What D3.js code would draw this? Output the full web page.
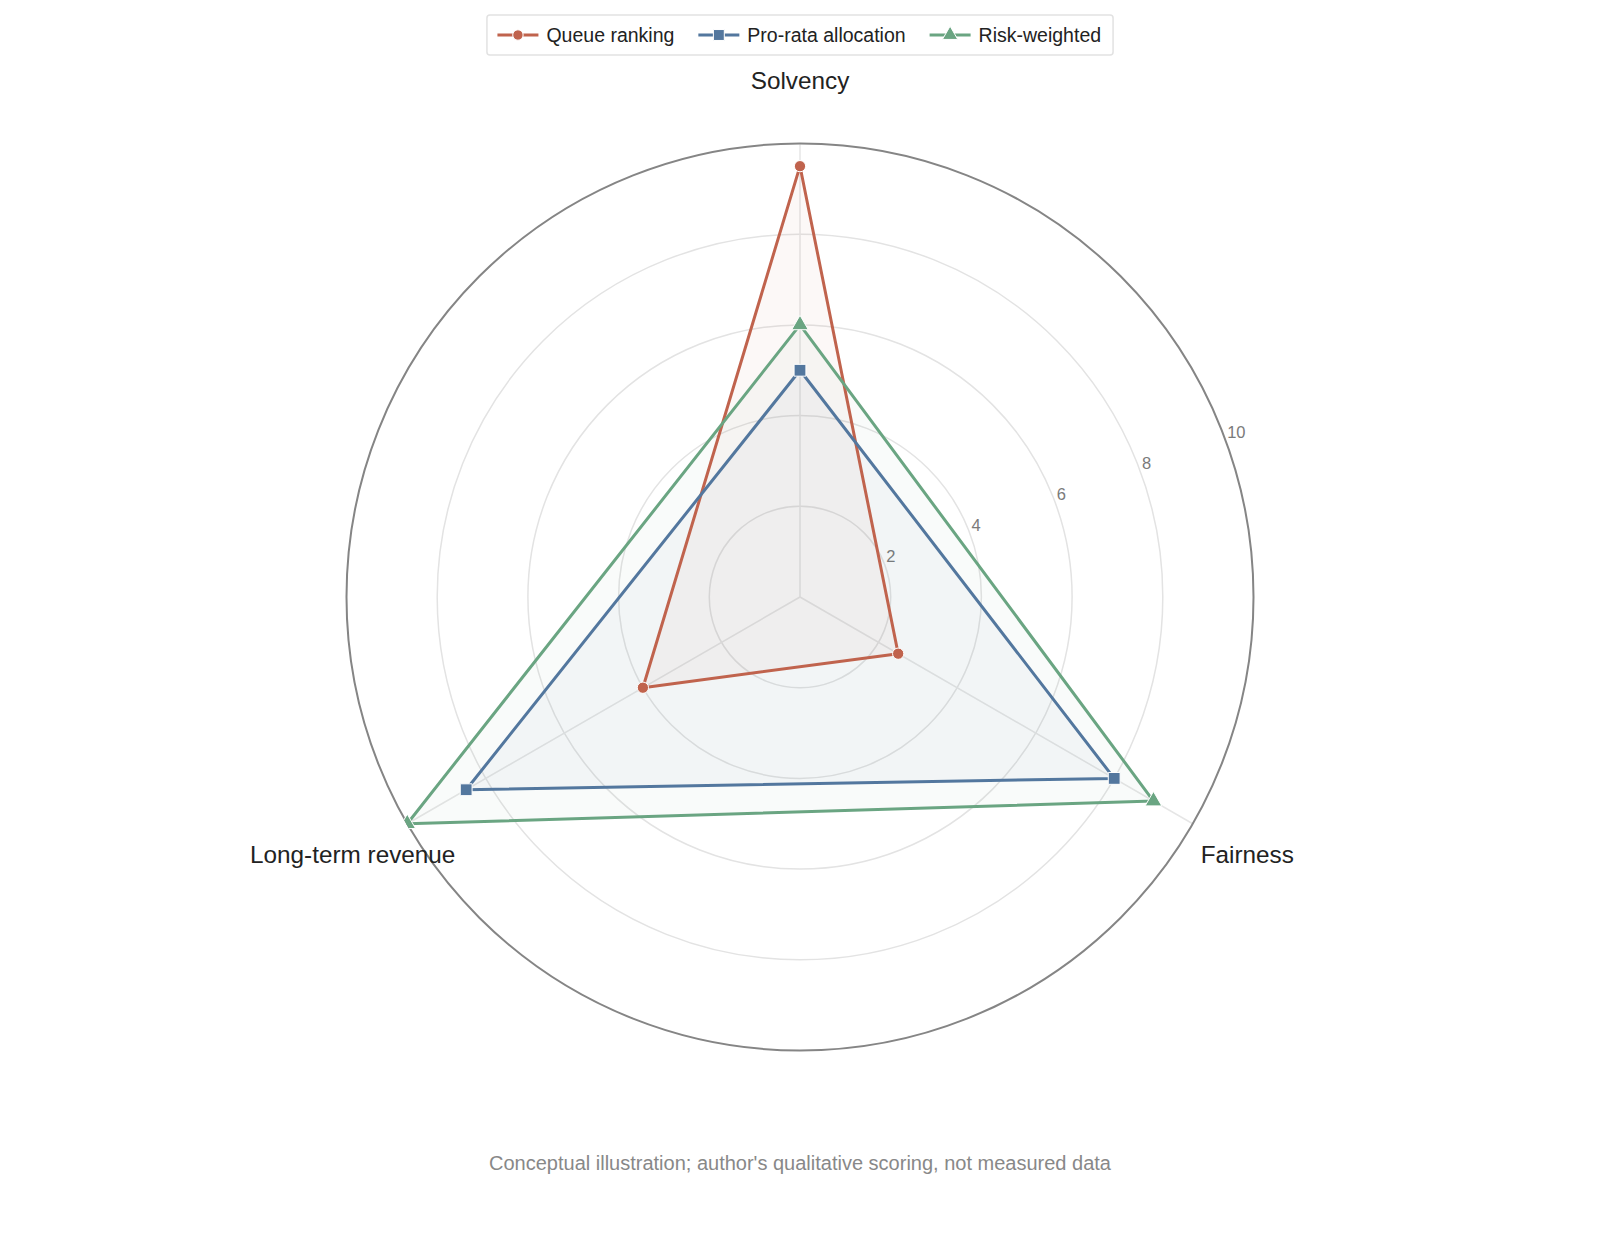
<!DOCTYPE html>
<html>
<head>
<meta charset="utf-8">
<script src="https://cdn.jsdelivr.net/npm/d3@7.9.0/dist/d3.min.js"></script>
<style>
  html, body { margin: 0; padding: 0; background: #fff; }
  svg { display: block; font-family: "Liberation Sans", Arial, Helvetica, sans-serif; }
</style>
</head>
<body>
<svg id="chart" width="1600" height="1244"></svg>
<script>
// axes around the radar, clockwise from the top
const axes = ['Solvency', 'Fairness', 'Long-term revenue'];
const radialTicks = [2, 4, 6, 8, 10];

// scores per axis (Solvency, Fairness, Long-term revenue)
const queueRanking = [9.5, 2.5, 4];
const proRataAllocation = [5, 8, 8.5];
const riskWeighted = [6, 9, 10];

const seriesNames = ['Queue ranking', 'Pro-rata allocation', 'Risk-weighted'];
const seriesValues = [queueRanking, proRataAllocation, riskWeighted];
const seriesColors = ['#c0634d', '#53779e', '#6aa582'];
const seriesSymbols = [d3.symbolCircle, d3.symbolSquare, d3.symbolTriangle];
const symbolSizes = [100, 140, 120];

const footnote = "Conceptual illustration; author's qualitative scoring, not measured data";

const cx = 800, cy = 597, R = 453.5;
const svg = d3.select('#chart');

let r = d3.scaleLinear().domain([0, 10]).range([0, R]);
let angle = d3.scalePoint().domain(axes).range([0, 2 * Math.PI * 2 / 3]);

function point(ax, v) {
  let a = angle(ax) - Math.PI / 2;
  return [r(v) * Math.cos(a), r(v) * Math.sin(a)];
}

let g = svg.append('g').attr('transform', `translate(${cx},${cy})`);

// grid rings
g.selectAll('circle.ring')
  .data(radialTicks.filter(t => t < 10))
  .enter()
  .append('circle')
  .attr('class', 'ring')
  .attr('r', d => r(d))
  .attr('fill', 'none')
  .attr('stroke', '#e3e3e3')
  .attr('stroke-width', 1.5);

// spokes
g.selectAll('line.spoke')
  .data(axes)
  .enter()
  .append('line')
  .attr('x1', 0).attr('y1', 0)
  .attr('x2', d => point(d, 10)[0])
  .attr('y2', d => point(d, 10)[1])
  .attr('stroke', '#e6e6e6')
  .attr('stroke-width', 1.5);

// radial tick labels along a 20 degree line
let tickAngle = -20 * Math.PI / 180;
g.selectAll('text.tick')
  .data(radialTicks)
  .enter()
  .append('text')
  .attr('x', d => r(d) * Math.cos(tickAngle) + 1)
  .attr('y', d => r(d) * Math.sin(tickAngle) - 4)
  .attr('font-size', 16.5)
  .attr('fill', '#7a7a7a')
  .attr('stroke', '#fff')
  .attr('stroke-width', 4)
  .attr('paint-order', 'stroke')
  .text(d => d);

// outer ring
g.append('circle')
  .attr('r', r(10))
  .attr('fill', 'none')
  .attr('stroke', '#858585')
  .attr('stroke-width', 2);

// axis labels
g.selectAll('text.axis-label')
  .data(axes)
  .enter()
  .append('text')
  .attr('x', d => { let a = angle(d) - Math.PI / 2; return (R + 63) * Math.cos(a); })
  .attr('y', d => { let a = angle(d) - Math.PI / 2; return (R + 63) * Math.sin(a) + 8; })
  .attr('text-anchor', 'middle')
  .attr('font-size', 24.3)
  .attr('fill', '#222')
  .text(d => d);

// series, clipped to the outer ring
svg.append('clipPath').attr('id', 'plot-clip')
  .append('circle').attr('cx', cx).attr('cy', cy).attr('r', R + 1);

let inner = svg.append('g').attr('clip-path', 'url(#plot-clip)')
  .append('g').attr('transform', `translate(${cx},${cy})`);

let radar = d3.lineRadial()
  .angle((d, i) => angle(axes[i]))
  .radius(d => r(d))
  .curve(d3.curveLinearClosed);

seriesValues.forEach((vals, si) => {
  inner.append('path')
    .attr('d', radar(vals))
    .attr('fill', seriesColors[si])
    .attr('fill-opacity', 0.045)
    .attr('stroke', 'none');
});

seriesValues.forEach((vals, si) => {
  inner.append('path')
    .attr('d', radar(vals))
    .attr('fill', 'none')
    .attr('stroke', seriesColors[si])
    .attr('stroke-width', 3)
    .attr('stroke-linejoin', 'round');

  inner.selectAll(`path.m${si}`)
    .data(vals)
    .enter()
    .append('path')
    .attr('class', `m${si}`)
    .attr('d', d3.symbol().type(seriesSymbols[si]).size(symbolSizes[si]))
    .attr('transform', (d, i) => `translate(${point(axes[i], d)})`)
    .attr('fill', seriesColors[si])
    .attr('stroke', '#fff')
    .attr('stroke-width', 1);
});

// legend
let legend = svg.append('g');
let legendBox = legend.append('rect')
  .attr('fill', '#fff')
  .attr('stroke', '#e2e2e2')
  .attr('stroke-width', 1.5)
  .attr('rx', 3);

let xPos = 10.5;
seriesNames.forEach((name, si) => {
  let item = legend.append('g').attr('transform', `translate(${xPos},0)`);
  item.append('line')
    .attr('x1', 0).attr('x2', 41)
    .attr('y1', 0).attr('y2', 0)
    .attr('stroke', seriesColors[si])
    .attr('stroke-width', 3);
  item.append('path')
    .attr('d', d3.symbol().type(seriesSymbols[si]).size(symbolSizes[si] * 0.85))
    .attr('transform', 'translate(20.5,0)')
    .attr('fill', seriesColors[si])
    .attr('stroke', '#fff')
    .attr('stroke-width', 1);
  let t = item.append('text')
    .attr('x', 49)
    .attr('y', 7)
    .attr('font-size', 19.5)
    .attr('fill', '#222')
    .text(name);
  xPos += 49 + t.node().getComputedTextLength() + 24;
});
let legendWidth = xPos - 24 + 12;
legendBox.attr('x', 0).attr('y', -20).attr('width', legendWidth).attr('height', 40);
legend.attr('transform', `translate(${cx - legendWidth / 2},${35})`);

// footnote
svg.append('text')
  .attr('x', cx)
  .attr('y', 1170)
  .attr('text-anchor', 'middle')
  .attr('font-size', 20)
  .attr('fill', '#888')
  .text(footnote);
</script>
</body>
</html>
